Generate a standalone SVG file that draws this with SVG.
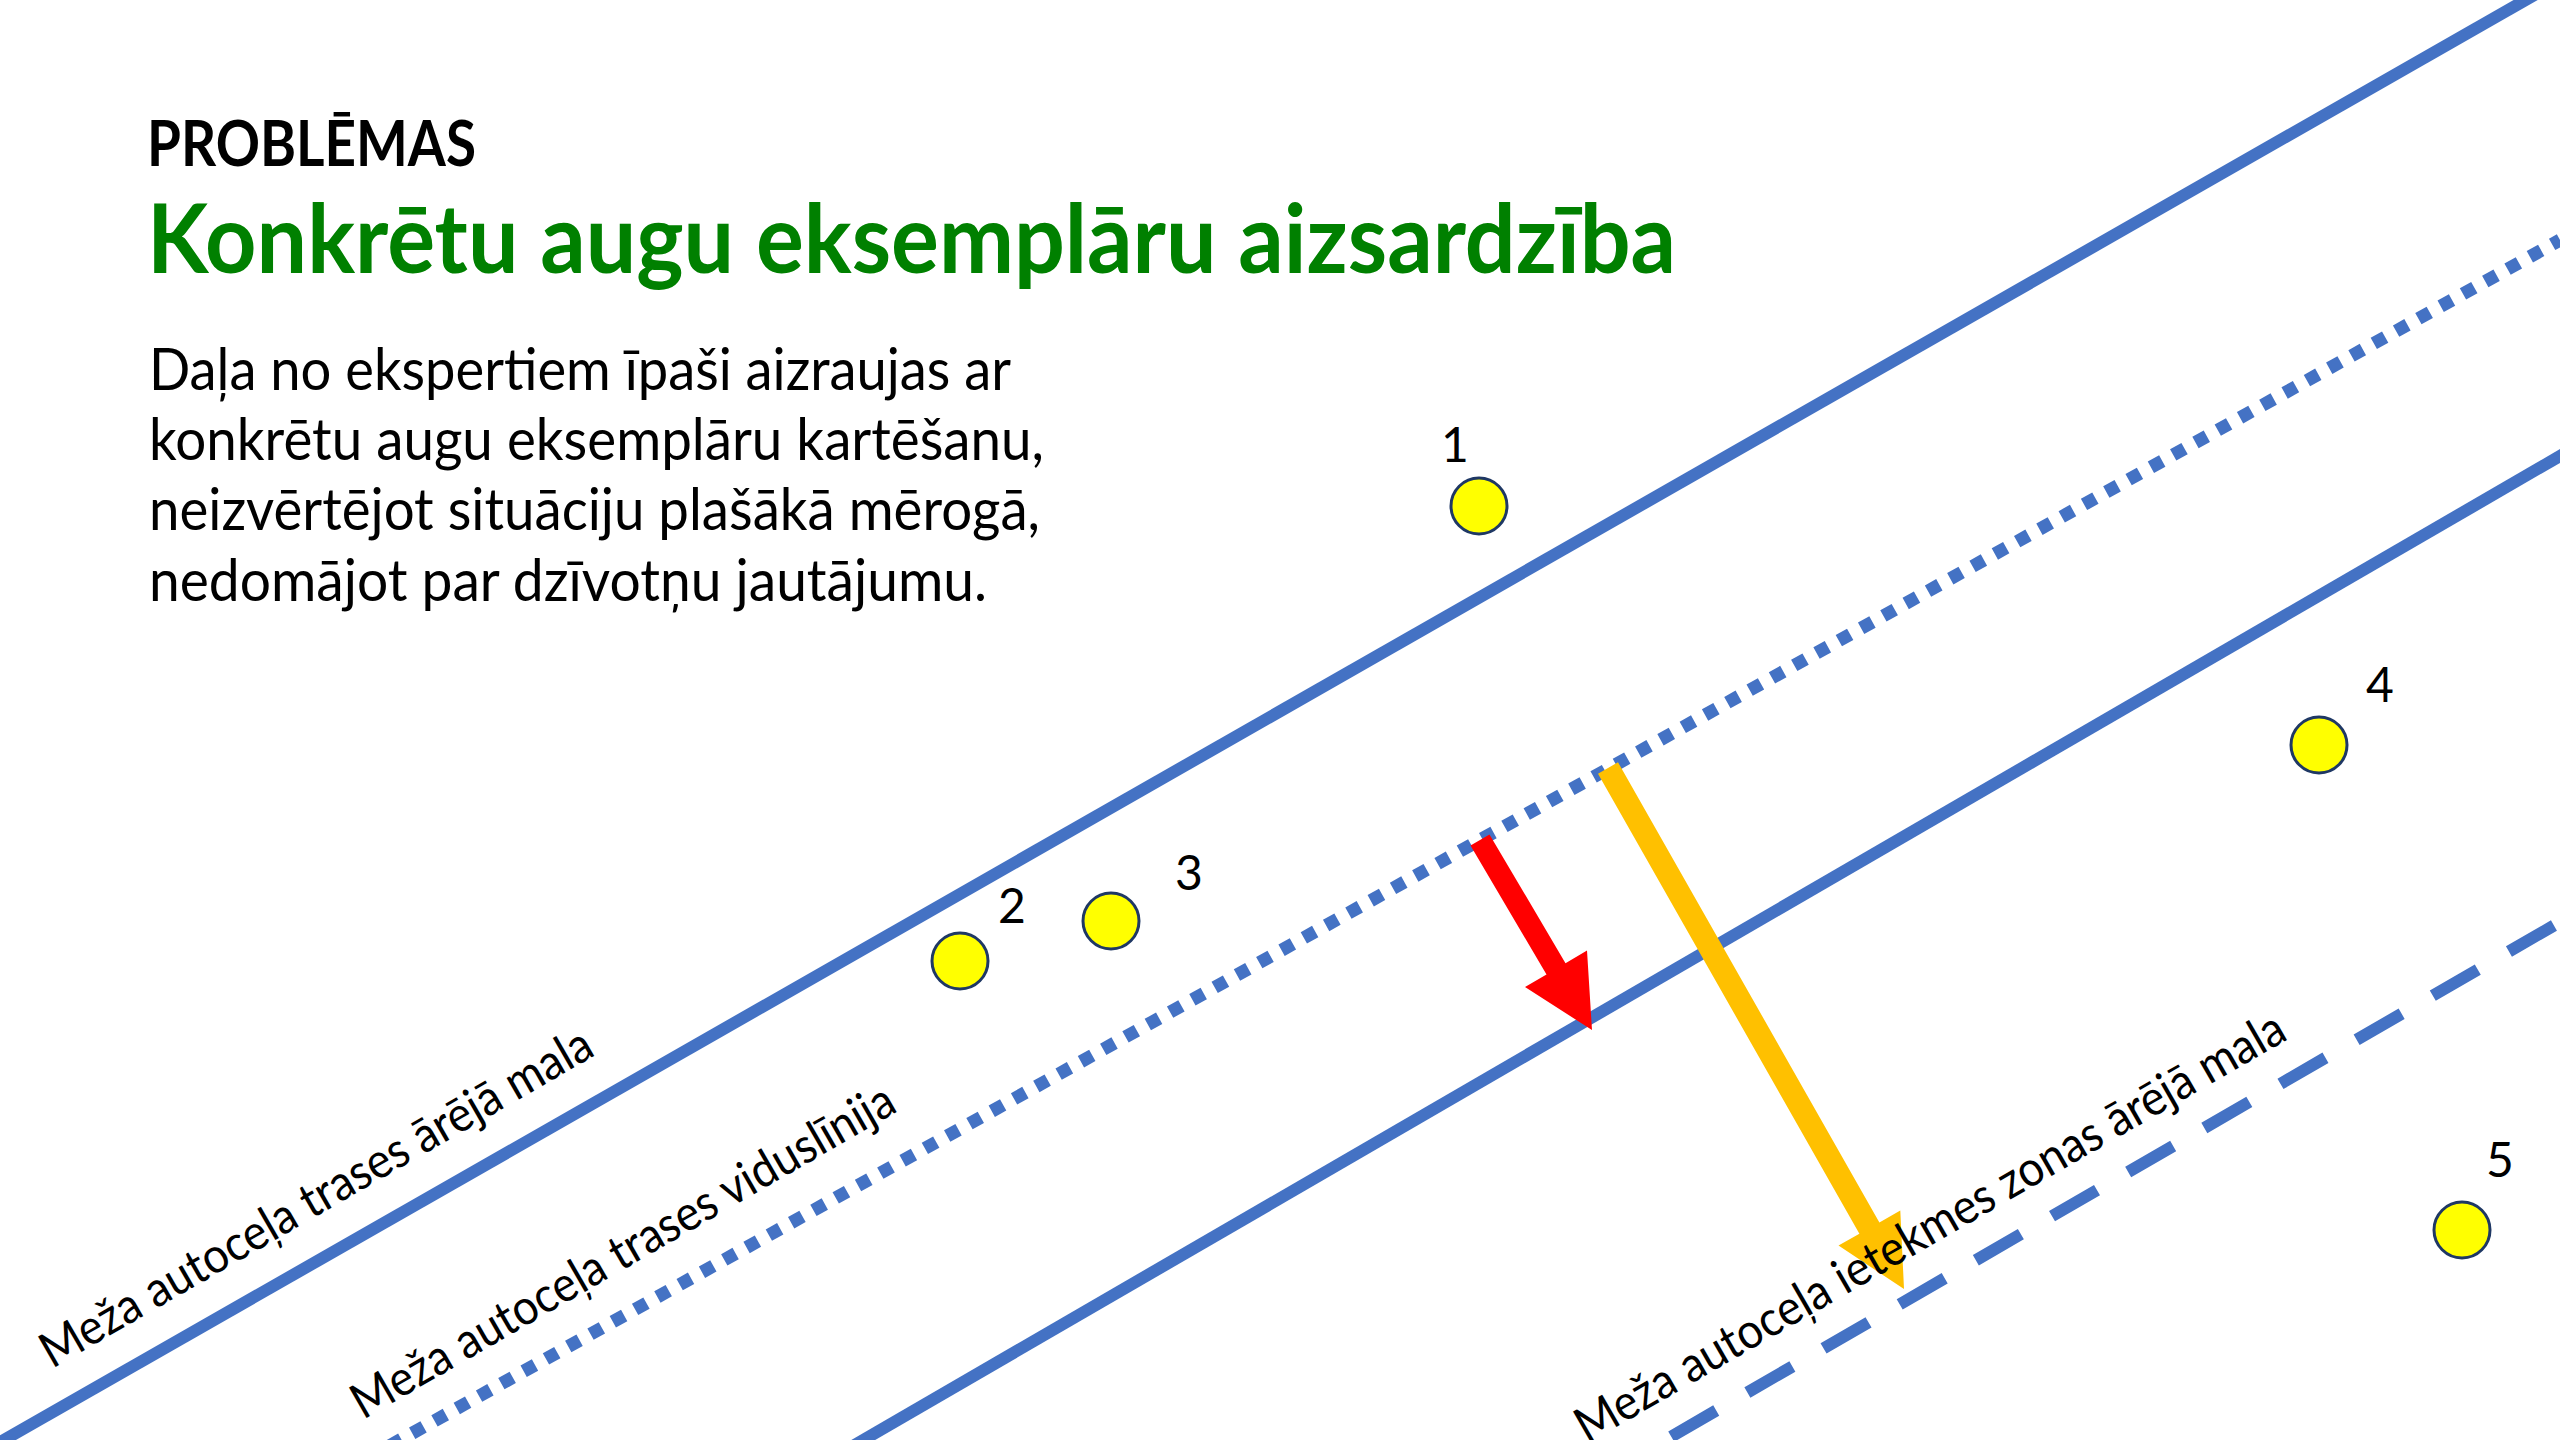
<svg xmlns="http://www.w3.org/2000/svg" width="2560" height="1440" viewBox="0 0 2560 1440">
<style>
  .t { font-family: Lato, "Open Sans", "Liberation Sans", sans-serif; fill: #000; }
  .hdr { font-size: 64px; font-weight: bold; }
  .ttl { font-size: 96px; font-weight: bold; fill: #008000; }
  .body { font-size: 58px; }
  .num { font-size: 48px; text-anchor: middle; }
  .lbl { font-size: 49px; }
  .road { fill: none; stroke: #4472C4; stroke-width: 12; }
  .dotted { stroke-width: 13; stroke-dasharray: 13 12.5; stroke-dashoffset: 4; }
  .dashed { stroke-width: 12; stroke-dasharray: 52 36; stroke-dashoffset: 81; }
  .plant { fill: #FFFF00; stroke: #1F3864; stroke-width: 3; }
</style>
<rect x="0" y="0" width="2560" height="1440" fill="#FFFFFF"/>

<g id="header">
  <text class="t hdr" x="147" y="166" textLength="329" lengthAdjust="spacingAndGlyphs">PROBLĒMAS</text>
  <text class="t ttl" x="147" y="273" textLength="1529" lengthAdjust="spacingAndGlyphs">Konkrētu augu eksemplāru aizsardzība</text>
</g>

<g id="description">
  <text class="t body" x="149" y="390" textLength="862" lengthAdjust="spacingAndGlyphs">Daļa no ekspertiem īpaši aizraujas ar</text>
  <text class="t body" x="149" y="460" textLength="895" lengthAdjust="spacingAndGlyphs">konkrētu augu eksemplāru kartēšanu,</text>
  <text class="t body" x="149" y="530" textLength="891" lengthAdjust="spacingAndGlyphs">neizvērtējot situāciju plašākā mērogā,</text>
  <text class="t body" x="149" y="601" textLength="838" lengthAdjust="spacingAndGlyphs">nedomājot par dzīvotņu jautājumu.</text>
</g>

<g id="connectors">
  <path id="road-outer-edge" class="road" d="M -10 1447.9 L 2540 -8.2"/>
  <path id="road-centerline" class="road dotted" d="M 2560 240 L 382 1450"/>
  <path id="road-inner-edge" class="road" d="M 2570 450.2 L 846 1450"/>
  <path id="impact-zone-edge" class="road dashed" d="M 2560 922 L 1655 1446"/>
  <polygon id="arrow-red" fill="#FF0000" points="1470.5,845.6 1489.5,834.4 1565.5,963.2 1587.0,950.5 1592,1030 1525.0,987.1 1546.5,974.4"/>
  <polygon id="arrow-orange" fill="#FFC000" points="1598.0,773.7 1618.0,762.3 1879.4,1222.4 1900.3,1210.6 1904,1289 1838.5,1245.6 1859.4,1233.8"/>
</g>

<g id="plant-1">
  <circle class="plant" cx="1479" cy="506" r="28"/>
  <text class="t num" x="1455" y="462">1</text>
</g>
<g id="plant-2">
  <circle class="plant" cx="960" cy="961" r="28"/>
  <text class="t num" x="1012" y="923">2</text>
</g>
<g id="plant-3">
  <circle class="plant" cx="1111" cy="921" r="28"/>
  <text class="t num" x="1189" y="890">3</text>
</g>
<g id="plant-4">
  <circle class="plant" cx="2319" cy="745" r="28"/>
  <text class="t num" x="2380" y="702">4</text>
</g>
<g id="plant-5">
  <circle class="plant" cx="2462" cy="1230" r="28"/>
  <text class="t num" x="2500" y="1177">5</text>
</g>

<g id="line-labels">
  <text class="t lbl" transform="translate(52,1369) rotate(-30)" textLength="629" lengthAdjust="spacingAndGlyphs">Meža autoceļa trases ārējā mala</text>
  <text class="t lbl" transform="translate(363,1420) rotate(-30)" textLength="619" lengthAdjust="spacingAndGlyphs">Meža autoceļa trases viduslīnija</text>
  <text class="t lbl" transform="translate(1587,1444) rotate(-30)" textLength="811" lengthAdjust="spacingAndGlyphs">Meža autoceļa ietekmes zonas ārējā mala</text>
</g>
</svg>
